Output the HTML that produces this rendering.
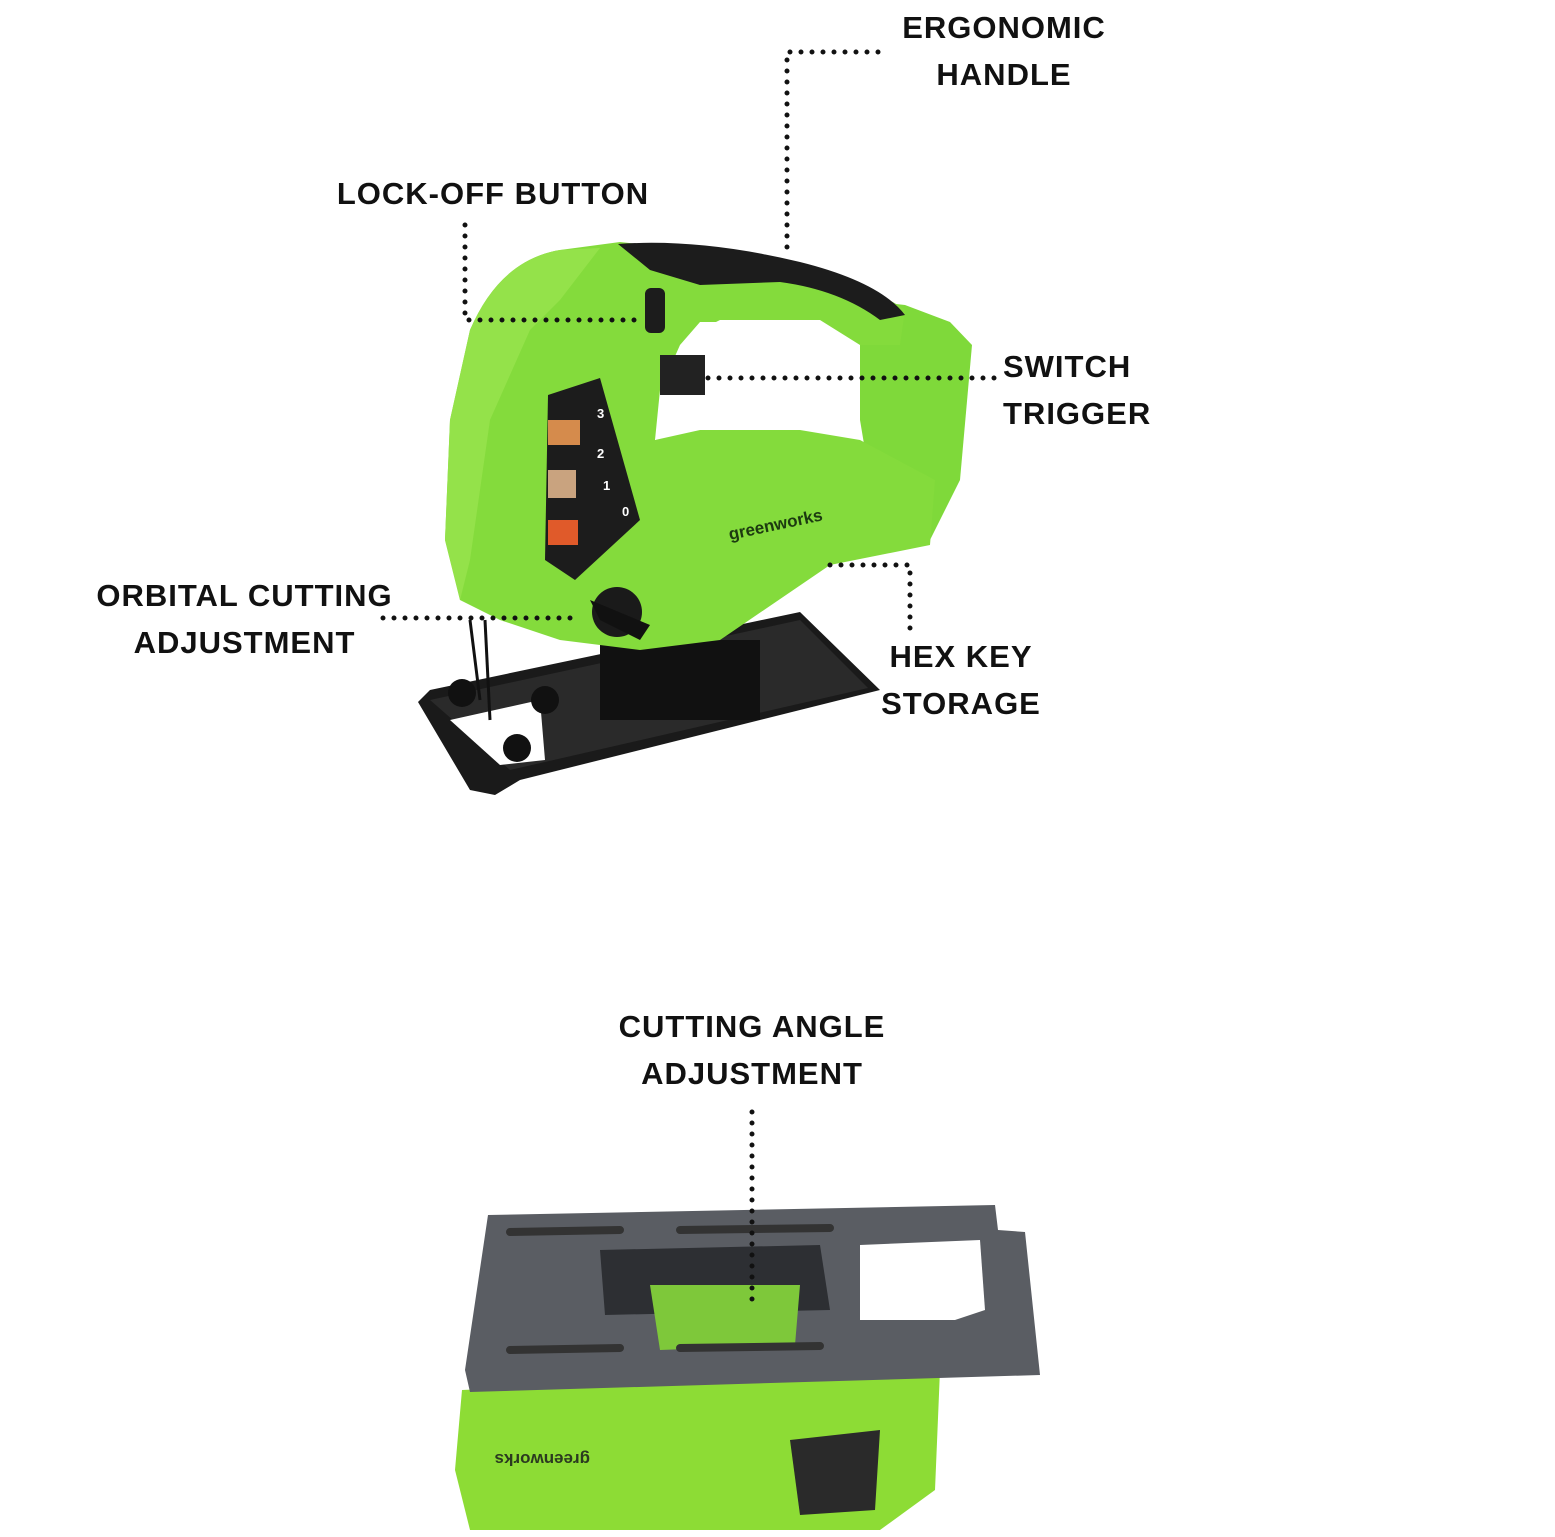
<!DOCTYPE html>
<html><head><meta charset="utf-8"><style>
html,body{margin:0;padding:0;background:#fff;}
body{width:1555px;height:1537px;position:relative;overflow:hidden;font-family:"Liberation Sans",sans-serif;}
.t{position:absolute;font-weight:bold;font-size:31px;color:#111;letter-spacing:1px;line-height:47px;text-align:center;white-space:nowrap;}
svg{position:absolute;left:0;top:0;}
</style></head><body>
<svg width="1555" height="1537" viewBox="0 0 1555 1537">
<!-- top jigsaw -->
<!-- base plate -->
<path d="M418,702 L430,690 L800,612 L880,690 L520,780 L495,795 L470,790 Z" fill="#1a1a1a"/>
<path d="M430,700 L800,620 L868,688 L510,770 Z" fill="#2a2a2a"/>
<path d="M450,720 L540,700 L545,760 L500,765 Z" fill="#fff"/>
<circle cx="462" cy="693" r="14" fill="#111"/><circle cx="517" cy="748" r="14" fill="#111"/><circle cx="545" cy="700" r="14" fill="#111"/>
<rect x="600" y="640" width="160" height="80" fill="#111"/>
<!-- rear handle block -->
<path d="M860,300 L905,305 L950,322 L972,345 L960,480 L930,540 L880,540 L860,420 Z" fill="#7fd93a"/>
<!-- main body -->
<path d="M470,330 Q500,260 560,250 L620,242 L700,300 L655,440 L700,430 L800,430 L860,440 L935,480 L930,545 L830,565 L720,640 L640,650 L560,640 L500,620 L460,600 L445,540 L450,420 Z" fill="#84db3c"/>
<path d="M470,330 Q500,260 560,250 L600,248 L560,300 L530,330 L490,420 L470,560 L460,600 L445,540 L450,420 Z" fill="#94e24a"/>
<!-- upper handle arm -->
<path d="M620,242 Q700,250 800,270 Q880,290 905,310 L900,345 L860,345 L820,320 L720,320 L680,340 L660,380 L640,300 Z" fill="#84db3c"/>
<path d="M618,244 Q700,238 800,262 Q880,282 905,315 L880,320 Q840,290 780,282 L700,285 L650,270 Z" fill="#1c1c1c"/>
<!-- handle hole -->
<path d="M700,322 L820,322 L860,350 L840,430 L780,420 L700,425 L655,440 L660,390 L680,345 Z" fill="#fff"/>
<rect x="660" y="355" width="45" height="40" fill="#222"/>
<rect x="645" y="288" width="20" height="45" rx="6" fill="#1c1c1c"/>
<!-- dial panel -->
<path d="M548,395 L600,378 L640,520 L575,580 L545,560 Z" fill="#1c1c1c"/>
<rect x="548" y="420" width="32" height="25" fill="#d58b4c"/>
<rect x="548" y="470" width="28" height="28" fill="#c9a37f"/>
<rect x="548" y="520" width="30" height="25" fill="#e05a2a"/>
<text x="597" y="418" font-size="13" fill="#fff" font-weight="bold">3</text>
<text x="597" y="458" font-size="13" fill="#fff" font-weight="bold">2</text>
<text x="603" y="490" font-size="13" fill="#fff" font-weight="bold">1</text>
<text x="622" y="516" font-size="13" fill="#fff" font-weight="bold">0</text>
<text x="730" y="540" font-size="17" fill="#1c3a10" font-weight="bold" transform="rotate(-12 730 540)">greenworks</text>
<!-- knob -->
<circle cx="617" cy="612" r="25" fill="#1a1a1a"/>
<path d="M590,600 L650,625 L640,640 L600,620 Z" fill="#111"/>
<line x1="470" y1="620" x2="480" y2="700" stroke="#111" stroke-width="3"/>
<line x1="485" y1="620" x2="490" y2="720" stroke="#111" stroke-width="3"/>

<!-- bottom image -->
<path d="M462,1390 L940,1370 L935,1490 L880,1530 L470,1530 L455,1470 Z" fill="#8ddc35"/>
<path d="M790,1440 L880,1430 L875,1510 L800,1515 Z" fill="#2a2a2a"/>
<text x="710" y="1462" font-size="17" fill="#2b3a20" font-weight="bold" transform="rotate(180 650 1458)">greenworks</text>
<path d="M488,1215 L995,1205 L998,1230 L1025,1232 L1040,1375 L470,1392 L465,1370 Z" fill="#5a5d63"/>
<path d="M600,1250 L820,1245 L830,1310 L605,1315 Z" fill="#2d2f33"/>
<path d="M860,1245 L980,1240 L985,1310 L955,1320 L860,1320 Z" fill="#fff"/>
<path d="M650,1285 L800,1285 L795,1345 L660,1350 Z" fill="#7ec83a"/>
<g stroke="#333" stroke-width="8" stroke-linecap="round">
<line x1="510" y1="1232" x2="620" y2="1230"/><line x1="680" y1="1230" x2="830" y2="1228"/>
<line x1="510" y1="1350" x2="620" y2="1348"/><line x1="680" y1="1348" x2="820" y2="1346"/>
</g>

<!-- dotted leaders -->
<g stroke="#111" stroke-width="5" stroke-dasharray="0 11" stroke-linecap="round" fill="none">
<path d="M878,52 L787,52 L787,255"/>
<path d="M465,225 L465,320 L645,320"/>
<path d="M708,378 L995,378"/>
<path d="M383,618 L578,618"/>
<path d="M830,565 L910,565 L910,630"/>
<path d="M752,1112 L752,1300"/>
</g>
</svg>
<div class="t" style="left:895px;top:4px;width:218px;">ERGONOMIC<br>HANDLE</div>
<div class="t" style="left:328px;top:170px;width:330px;">LOCK-OFF BUTTON</div>
<div class="t" style="left:1003px;top:343px;width:146px;text-align:left;">SWITCH<br>TRIGGER</div>
<div class="t" style="left:92px;top:572px;width:305px;">ORBITAL CUTTING<br>ADJUSTMENT</div>
<div class="t" style="left:880px;top:633px;width:162px;">HEX KEY<br>STORAGE</div>
<div class="t" style="left:612px;top:1003px;width:280px;">CUTTING ANGLE<br>ADJUSTMENT</div>
</body></html>
